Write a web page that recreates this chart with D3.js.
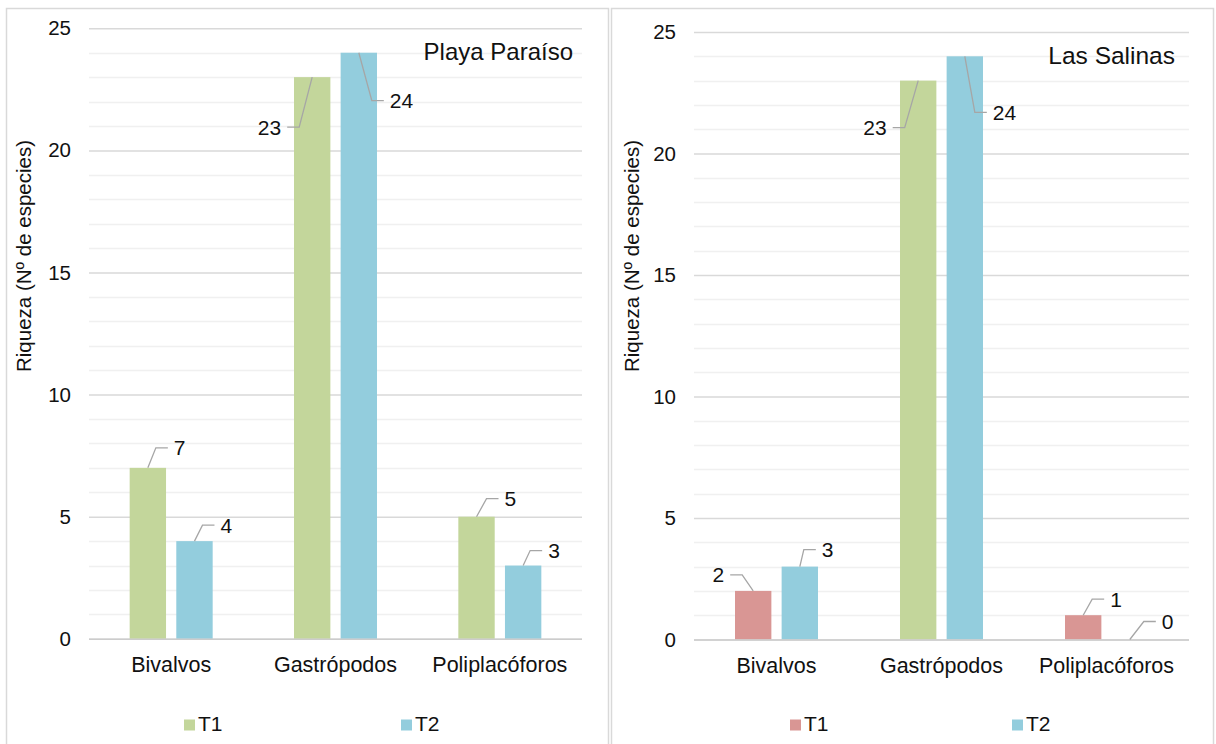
<!DOCTYPE html>
<html>
<head>
<meta charset="utf-8">
<script src="https://cdn.jsdelivr.net/npm/d3@7/dist/d3.min.js"></script>
<style>
  html, body { margin: 0; padding: 0; background: #fff; }
  svg { display: block; font-family: "Liberation Sans", Arial, sans-serif; }
</style>
</head>
<body>
<svg id="chart" width="1216" height="744"></svg>
<script>
// Species richness by class, two sampling times, two beaches
const categories = ["Bivalvos", "Gastrópodos", "Poliplacóforos"];
const seriesNames = ["T1", "T2"];
const yTicks = [0, 5, 10, 15, 20, 25];
const yAxisTitle = "Riqueza (Nº de especies)";

const paraisoTitle = "Playa Paraíso";
const paraisoT1 = [7, 23, 5];
const paraisoT2 = [4, 24, 3];

const salinasTitle = "Las Salinas";
const salinasT1 = [2, 23, 1];
const salinasT2 = [3, 24, 0];

// colours
const GREEN = "#c3d69b", BLUE = "#93cddd", RED = "#d99694";
const paraisoT1Colors = [GREEN, GREEN, GREEN];
const paraisoT2Colors = [BLUE, BLUE, BLUE];
const salinasT1Colors = [RED, GREEN, RED];
const salinasT2Colors = [BLUE, BLUE, BLUE];

// callout placement per bar: [elbow dx, elbow dy, side]
const paraisoCallouts = [
  [[8, -20, 1], [-13, 50, -1], [10, -18, 1]],
  [[8, -16, 1], [13, 48, 1], [7, -15, 1]]
];
const salinasCallouts = [
  [[-11, -16, -1], [-13.5, 47, -1], [9, -16, 1]],
  [[4, -17, 1], [10, 56, 1], [14, -18, 1]]
];

const svg = d3.select("#chart");

function drawPanel(cfg) {
  const g = svg.append("g");

  // panel frame
  g.append("rect")
    .attr("x", cfg.frame[0] + 0.5).attr("y", cfg.frame[1] + 0.5)
    .attr("width", cfg.frame[2]).attr("height", cfg.frame[3])
    .attr("fill", "#fff").attr("stroke", "#d9d9d9").attr("stroke-width", 1.5);

  const x = d3.scaleBand().domain(categories).range([cfg.left, cfg.right]).padding(0);
  const y = d3.scaleLinear().domain([0, 25]).range([cfg.bottom, cfg.top]);
  const xInner = d3.scaleBand().domain(seriesNames).range([-41.5, 41.5]).paddingInner(0.22);

  // minor gridlines at every unit
  g.append("g").selectAll("line")
    .data(d3.range(1, 25).filter(v => v % 5 !== 0))
    .join("line")
    .attr("x1", cfg.left).attr("x2", cfg.right)
    .attr("y1", d => Math.round(y(d)) + 0.5).attr("y2", d => Math.round(y(d)) + 0.5)
    .attr("stroke", "#f0f0f0").attr("stroke-width", 1.5);

  // major gridlines + tick labels via a d3 axis
  const yAxis = d3.axisLeft(y).tickValues(yTicks).tickSize(-(cfg.right - cfg.left)).tickPadding(18);
  const ax = g.append("g").attr("transform", `translate(${cfg.left},0)`).call(yAxis);
  ax.select(".domain").remove();
  ax.selectAll(".tick line").attr("stroke", "#d9d9d9").attr("stroke-width", 1.5);
  ax.selectAll(".tick text").attr("fill", "#111").attr("font-size", 20.5)
    .attr("font-family", "\"Liberation Sans\", Arial, sans-serif");

  const series = [
    { name: "T1", values: cfg.t1, colors: cfg.t1Colors, callouts: cfg.callouts[0] },
    { name: "T2", values: cfg.t2, colors: cfg.t2Colors, callouts: cfg.callouts[1] }
  ];

  const rows = [];
  series.forEach(s => categories.forEach((c, i) => rows.push({
    cat: c, series: s.name, value: s.values[i], color: s.colors[i], callout: s.callouts[i]
  })));

  // bars
  g.append("g").selectAll("rect")
    .data(rows.filter(d => d.value > 0))
    .join("rect")
    .attr("x", d => x(d.cat) + x.bandwidth() / 2 + xInner(d.series))
    .attr("y", d => y(d.value))
    .attr("width", xInner.bandwidth())
    .attr("height", d => y(0) - y(d.value))
    .attr("fill", d => d.color);

  // baseline
  g.append("line")
    .attr("x1", cfg.left).attr("x2", cfg.right)
    .attr("y1", y(0) + 0.5).attr("y2", y(0) + 0.5)
    .attr("stroke", "#cccccc").attr("stroke-width", 1.5);

  // data labels with leader lines
  const lab = g.append("g");
  rows.forEach(d => {
    const ax0 = x(d.cat) + x.bandwidth() / 2 + xInner(d.series) + xInner.bandwidth() / 2;
    const ay0 = y(d.value);
    const [edx, edy, side] = d.callout;
    const ex = ax0 + edx, ey = ay0 + edy;
    const hx = ex + side * 12;
    lab.append("polyline")
      .attr("points", `${ax0},${ay0} ${ex},${ey} ${hx},${ey}`)
      .attr("fill", "none").attr("stroke", "#a6a6a6").attr("stroke-width", 1.3);
    lab.append("text")
      .attr("x", hx + side * 6).attr("y", ey + 7.5)
      .attr("text-anchor", side > 0 ? "start" : "end")
      .attr("font-size", 21).attr("fill", "#111")
      .text(d.value);
  });

  // category labels
  g.append("g").selectAll("text")
    .data(categories)
    .join("text")
    .attr("x", d => x(d) + x.bandwidth() / 2)
    .attr("y", cfg.bottom + 33)
    .attr("text-anchor", "middle")
    .attr("font-size", 21.5).attr("fill", "#111")
    .text(d => d);

  // y axis title
  g.append("text")
    .attr("transform", `translate(${cfg.yTitleX},${cfg.yTitleY}) rotate(-90)`)
    .attr("text-anchor", "middle").attr("dominant-baseline", "central")
    .attr("font-size", 20.5).attr("fill", "#111")
    .text(yAxisTitle);

  // panel title
  g.append("text")
    .attr("x", cfg.titleX).attr("y", cfg.titleY)
    .attr("text-anchor", "end")
    .attr("font-size", cfg.titleSize).attr("fill", "#111")
    .text(cfg.title);

  // legend
  const leg = g.append("g");
  seriesNames.forEach((s, i) => {
    const lx = cfg.legendX[i];
    leg.append("rect")
      .attr("x", lx).attr("y", cfg.legendY - 11)
      .attr("width", 11).attr("height", 11)
      .attr("fill", cfg.legendColors[i]);
    leg.append("text")
      .attr("x", lx + 14).attr("y", cfg.legendY)
      .attr("font-size", 21).attr("fill", "#111")
      .text(s);
  });
}

drawPanel({
  frame: [6, 8, 602, 760],
  left: 89, right: 582, top: 28.3, bottom: 638.8,
  title: paraisoTitle, titleX: 573, titleY: 60, titleSize: 24,
  t1: paraisoT1, t2: paraisoT2,
  t1Colors: paraisoT1Colors, t2Colors: paraisoT2Colors,
  callouts: paraisoCallouts,
  yTitleX: 23, yTitleY: 256,
  legendX: [184, 401], legendY: 730.5,
  legendColors: [GREEN, BLUE]
});

drawPanel({
  frame: [611, 8, 602, 760],
  left: 694, right: 1189, top: 32, bottom: 639.5,
  title: salinasTitle, titleX: 1175, titleY: 64, titleSize: 24.5,
  t1: salinasT1, t2: salinasT2,
  t1Colors: salinasT1Colors, t2Colors: salinasT2Colors,
  callouts: salinasCallouts,
  yTitleX: 631, yTitleY: 256,
  legendX: [790, 1012], legendY: 730.5,
  legendColors: [RED, BLUE]
});
</script>
</body>
</html>
